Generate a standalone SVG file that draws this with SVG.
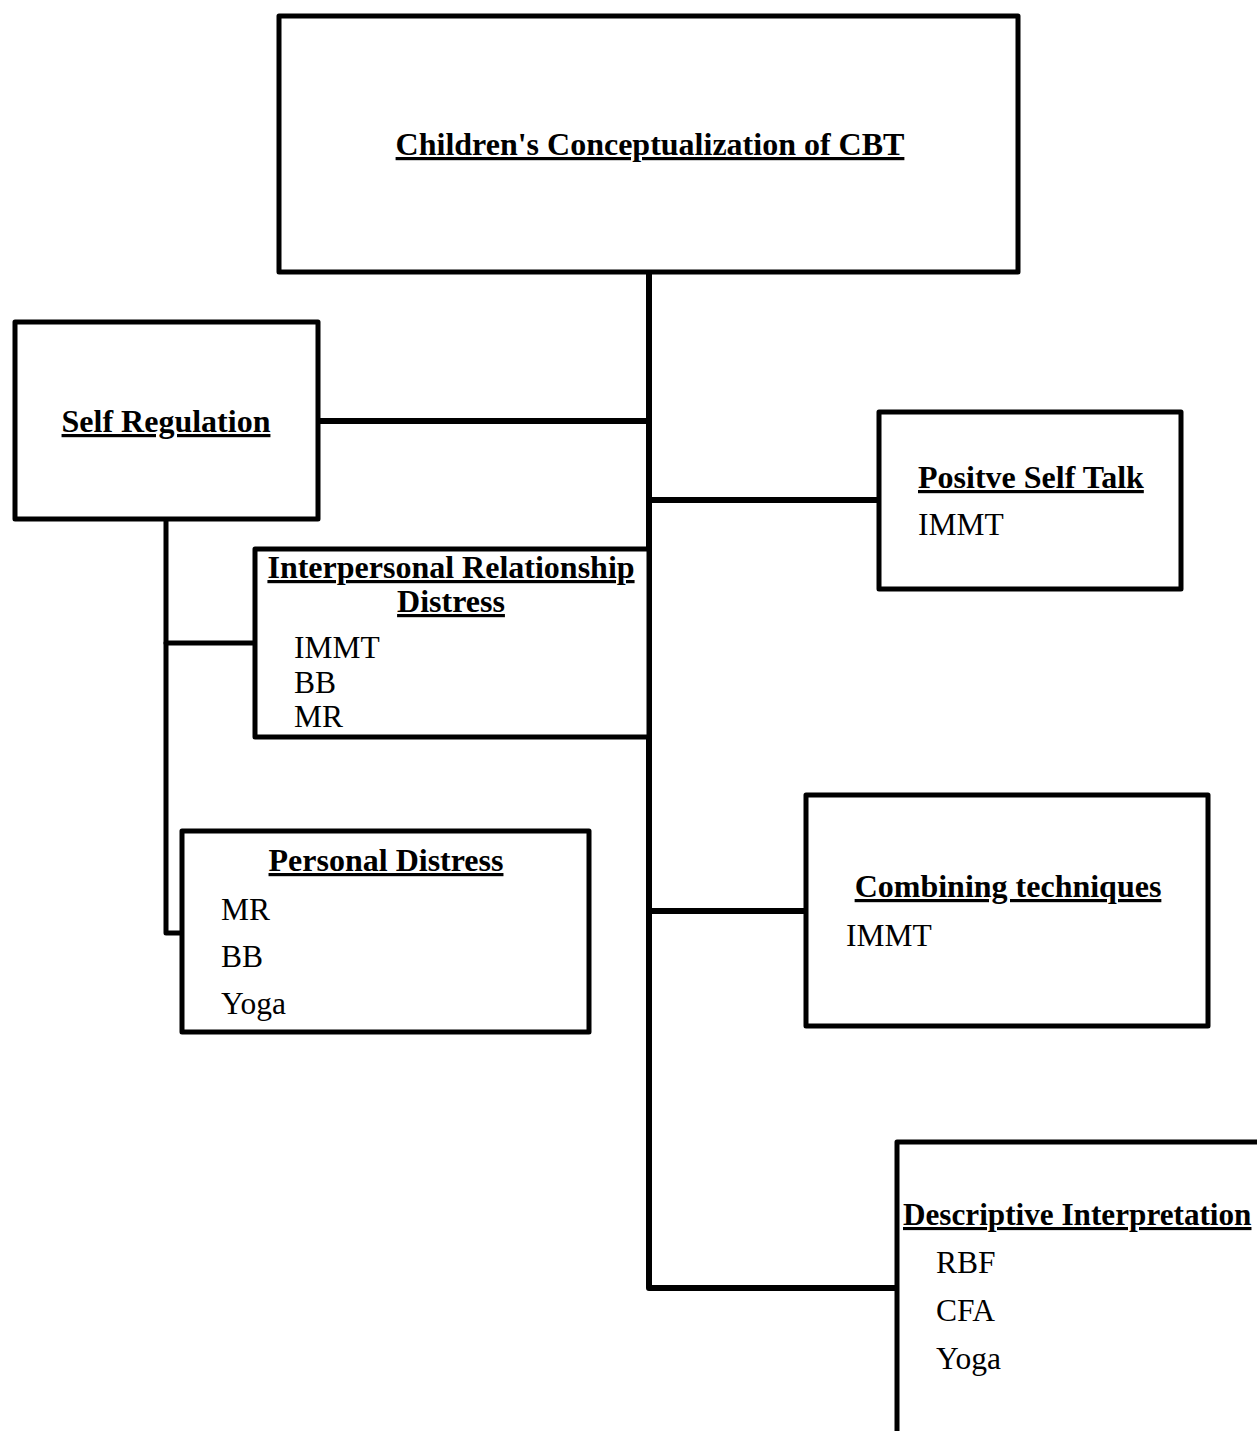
<svg xmlns="http://www.w3.org/2000/svg" width="1257" height="1431" viewBox="0 0 1257 1431">
<style>
.box{fill:#fff;stroke:#000;stroke-width:5;stroke-linejoin:round}
.ln{fill:none;stroke:#000;stroke-width:6;stroke-linecap:round;stroke-linejoin:round}
.t{font-family:"Liberation Serif","Times New Roman",serif;font-size:31.5px;fill:#000}
.h{font-weight:bold;text-decoration:underline;font-size:32px}
</style>
<rect width="1257" height="1431" fill="#fff"/>
<g id="connectors">
<path class="ln" d="M649 272 V1288 H897"/>
<path class="ln" d="M318 421 H649"/>
<path class="ln" d="M649 500 H879"/>
<path class="ln" d="M649 911 H806"/>
<path class="ln" style="stroke-width:5" d="M166 519 V933 H182"/>
<path class="ln" style="stroke-width:5" d="M166 643 H255"/>
</g>
<g id="root">
<rect class="box" x="279" y="16" width="739" height="256"/>
<text class="t h" x="650" y="155" text-anchor="middle">Children's Conceptualization of CBT</text>
</g>
<g id="self-regulation">
<rect class="box" x="15" y="322" width="303" height="197"/>
<text class="t h" x="166" y="432" text-anchor="middle">Self Regulation</text>
</g>
<g id="positive-self-talk">
<rect class="box" x="879" y="412" width="302" height="177"/>
<text class="t h" x="918" y="488">Positve Self Talk</text>
<text class="t" x="918" y="535">IMMT</text>
</g>
<g id="interpersonal">
<rect class="box" x="255" y="549" width="394" height="188"/>
<text class="t h" x="451" y="578" text-anchor="middle">Interpersonal Relationship</text>
<text class="t h" x="451" y="612" text-anchor="middle">Distress</text>
<text class="t" x="294" y="658">IMMT</text>
<text class="t" x="294" y="693">BB</text>
<text class="t" x="294" y="727">MR</text>
</g>
<g id="personal-distress">
<rect class="box" x="182" y="831" width="407" height="201"/>
<text class="t h" x="386" y="871" text-anchor="middle">Personal Distress</text>
<text class="t" x="221" y="920">MR</text>
<text class="t" x="221" y="967">BB</text>
<text class="t" x="221" y="1014">Yoga</text>
</g>
<g id="combining">
<rect class="box" x="806" y="795" width="402" height="231"/>
<text class="t h" x="1008" y="897" text-anchor="middle">Combining techniques</text>
<text class="t" x="846" y="946">IMMT</text>
</g>
<g id="descriptive">
<rect class="box" x="897" y="1142" width="420" height="340"/>
<text class="t h" x="903" y="1225" style="font-size:31.2px">Descriptive Interpretation</text>
<text class="t" x="936" y="1273">RBF</text>
<text class="t" x="936" y="1321">CFA</text>
<text class="t" x="936" y="1369">Yoga</text>
</g>
</svg>
